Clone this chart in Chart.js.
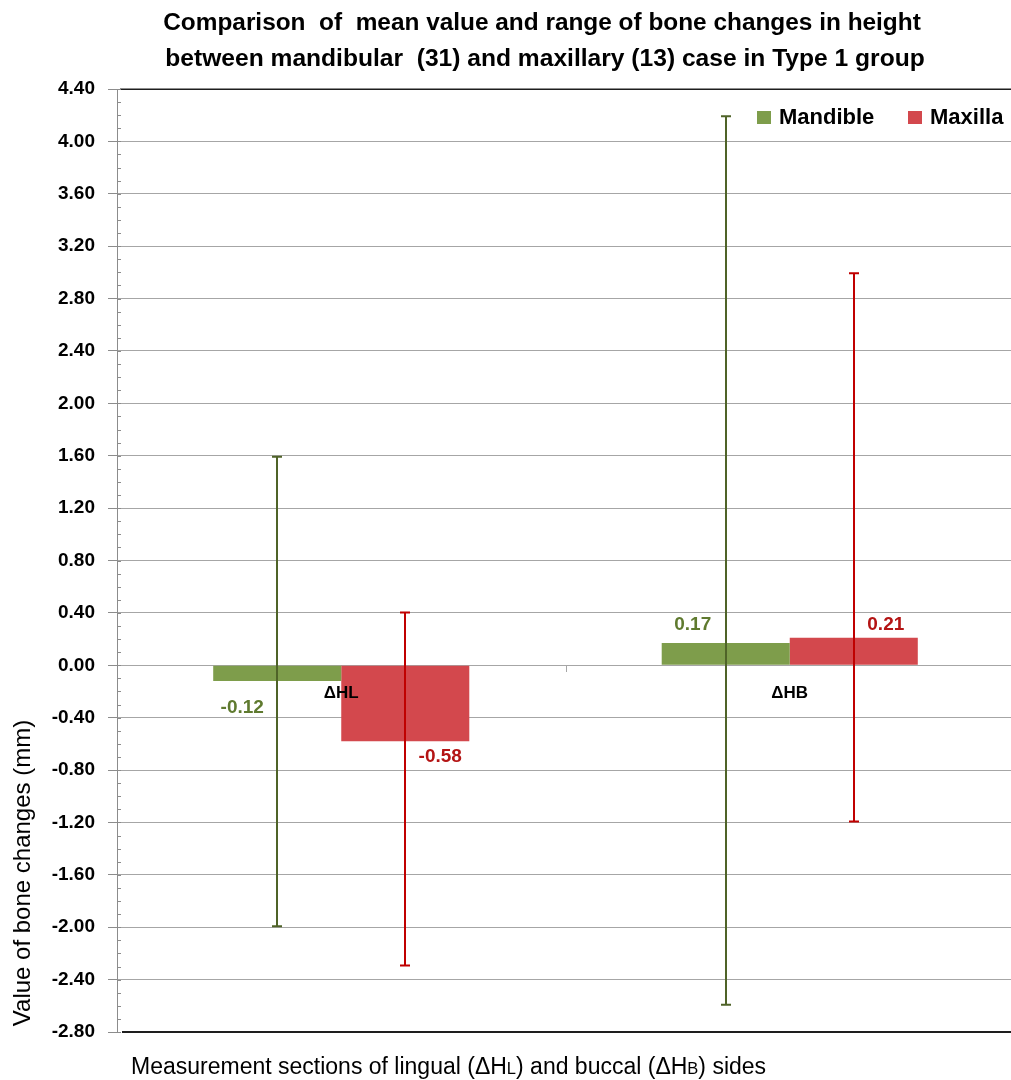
<!DOCTYPE html>
<html>
<head>
<meta charset="utf-8">
<script src="https://cdn.jsdelivr.net/npm/chart.js@4"></script>
<style>
  html, body { margin: 0; padding: 0; overflow: hidden; background: #ffffff; }
  #wrap { width: 1016px; height: 1080px; position: relative; }
</style>
</head>
<body>
<div id="wrap"><canvas id="c" width="1016" height="1080"></canvas></div>
<script>
// Measurement sections (category axis)
const categories = ['ΔHL', 'ΔHB'];
const seriesNames = ['Mandible', 'Maxilla'];

// Mean bone change (mm) per section
const mandibleMean = [-0.12, 0.17];
const maxillaMean = [-0.58, 0.21];

// Range (min / max) per section, drawn as range bars
const mandibleMin = [-2.00, -2.60];
const mandibleMax = [1.60, 4.20];
const maxillaMin = [-2.30, -1.20];
const maxillaMax = [0.41, 3.00];

// Value axis ticks
const yMin = -2.8;
const yMax = 4.4;
const yStep = 0.4;
const yMinorStep = 0.1;

const titleLines = [
  'Comparison  of  mean value and range of bone changes in height',
  'between mandibular  (31) and maxillary (13) case in Type 1 group'
];
const yTitle = 'Value of bone changes (mm)';
// x title pieces: [text, isSmall]
const xTitleParts = [
  ['Measurement sections of lingual (ΔH', false],
  ['L', true],
  [') and buccal (ΔH', false],
  ['B', true],
  [') sides', false]
];

// Styling
const barColors = ['#7e9d4b', '#d3484d'];
const rangeColors = ['#4f6328', '#c00000'];
const labelColors = ['#5f7a2f', '#b41414'];
const FONT = "'Liberation Sans', Arial, sans-serif";
// label offsets from bar centre / bar end, per dataset and category
const labelOffsets = [
  [{ dx: -35, dy: 27 }, { dx: -33, dy: -18 }],
  [{ dx: 35, dy: 16 }, { dx: 32, dy: -13 }]
];

const rangeMin = [mandibleMin, maxillaMin];
const rangeMax = [mandibleMax, maxillaMax];

const overlayPlugin = {
  id: 'overlay',
  afterDatasetsDraw(chart) {
    const ctx = chart.ctx;
    const y = chart.scales.y;
    const x = chart.scales.x;
    const area = chart.chartArea;
    ctx.save();

    // frame lines at top and bottom of the plot
    ctx.strokeStyle = '#1e1e1e';
    ctx.lineWidth = 1.5;
    ctx.beginPath();
    ctx.moveTo(area.left + 3, Math.round(y.getPixelForValue(yMax)) + 0.25);
    ctx.lineTo(area.right, Math.round(y.getPixelForValue(yMax)) + 0.25);
    ctx.stroke();
    ctx.lineWidth = 2;
    ctx.beginPath();
    ctx.moveTo(area.left + 5, Math.round(y.getPixelForValue(yMin)));
    ctx.lineTo(area.right, Math.round(y.getPixelForValue(yMin)));
    ctx.stroke();

    // minor ticks on the value axis
    ctx.strokeStyle = '#8c8c8c';
    ctx.lineWidth = 1;
    const nMinor = Math.round((yMax - yMin) / yMinorStep);
    for (let i = 0; i <= nMinor; i++) {
      const v = yMin + i * yMinorStep;
      const py = Math.round(y.getPixelForValue(v)) + 0.5;
      ctx.beginPath();
      ctx.moveTo(area.left, py);
      ctx.lineTo(area.left + 4, py);
      ctx.stroke();
    }

    // category separator tick on the zero line
    const zeroY = Math.round(y.getPixelForValue(0));
    const sepX = Math.round((x.getPixelForValue(0) + x.getPixelForValue(1)) / 2) + 0.5;
    ctx.strokeStyle = '#a6a6a6';
    ctx.beginPath();
    ctx.moveTo(sepX, zeroY);
    ctx.lineTo(sepX, zeroY + 7);
    ctx.stroke();

    // range bars
    chart.data.datasets.forEach((ds, di) => {
      const meta = chart.getDatasetMeta(di);
      meta.data.forEach((bar, ci) => {
        const bx = Math.round(bar.x);
        const top = y.getPixelForValue(rangeMax[di][ci]);
        const bot = y.getPixelForValue(rangeMin[di][ci]);
        ctx.strokeStyle = rangeColors[di];
        ctx.lineWidth = 2;
        ctx.beginPath();
        ctx.moveTo(bx, top);
        ctx.lineTo(bx, bot);
        ctx.moveTo(bx - 5, top + 1);
        ctx.lineTo(bx + 5, top + 1);
        ctx.moveTo(bx - 5, bot - 1);
        ctx.lineTo(bx + 5, bot - 1);
        ctx.stroke();
      });
    });

    // value labels
    ctx.font = 'bold 19px ' + FONT;
    ctx.textAlign = 'center';
    ctx.textBaseline = 'middle';
    chart.data.datasets.forEach((ds, di) => {
      const meta = chart.getDatasetMeta(di);
      meta.data.forEach((bar, ci) => {
        const v = ds.data[ci];
        const off = labelOffsets[di][ci];
        ctx.fillStyle = labelColors[di];
        ctx.fillText(v.toFixed(2), bar.x + off.dx, y.getPixelForValue(v) + off.dy);
      });
    });

    // category labels next to the zero line
    ctx.fillStyle = '#000000';
    ctx.font = 'bold 17px ' + FONT;
    categories.forEach((c, i) => {
      ctx.fillText(c, x.getPixelForValue(i), zeroY + 28);
    });

    ctx.restore();
  },
  afterDraw(chart) {
    const ctx = chart.ctx;
    ctx.save();
    ctx.fillStyle = '#000000';

    // chart title
    ctx.textAlign = 'center';
    ctx.textBaseline = 'middle';
    ctx.font = 'bold 24.4px ' + FONT;
    ctx.fillText(titleLines[0], 542, 23);
    ctx.font = 'bold 24.6px ' + FONT;
    ctx.fillText(titleLines[1], 545, 59);

    // legend
    const legend = [
      { sx: 757, tx: 779 },
      { sx: 908, tx: 930 }
    ];
    ctx.font = 'bold 22px ' + FONT;
    ctx.textAlign = 'left';
    seriesNames.forEach((n, i) => {
      ctx.fillStyle = barColors[i];
      ctx.fillRect(legend[i].sx, 111, 14, 13);
      ctx.fillStyle = '#000000';
      ctx.fillText(n, legend[i].tx, 118);
    });

    // value axis title
    ctx.save();
    ctx.translate(23, 873);
    ctx.rotate(-Math.PI / 2);
    ctx.font = '24px ' + FONT;
    ctx.textAlign = 'center';
    ctx.fillText(yTitle, 0, 0);
    ctx.restore();

    // category axis title with small letters
    ctx.textAlign = 'left';
    ctx.textBaseline = 'alphabetic';
    let px = 131;
    xTitleParts.forEach(([t, small]) => {
      ctx.font = (small ? '16.5px ' : '23px ') + FONT;
      ctx.fillText(t, px, 1074);
      px += ctx.measureText(t).width;
    });

    ctx.restore();
  }
};

new Chart(document.getElementById('c'), {
  type: 'bar',
  data: {
    labels: categories,
    datasets: [
      { label: seriesNames[0], data: mandibleMean, backgroundColor: barColors[0] },
      { label: seriesNames[1], data: maxillaMean, backgroundColor: barColors[1] }
    ]
  },
  options: {
    responsive: false,
    animation: false,
    devicePixelRatio: 1,
    layout: { padding: { top: 89, bottom: 48, left: 0, right: 2 } },
    datasets: { bar: { categoryPercentage: 0.571, barPercentage: 1.0, borderWidth: 0 } },
    plugins: { legend: { display: false }, title: { display: false }, tooltip: { enabled: false } },
    scales: {
      x: { display: false, offset: true, grid: { display: false } },
      y: {
        min: yMin,
        max: yMax,
        ticks: {
          stepSize: yStep,
          color: '#000000',
          padding: 13,
          font: { family: FONT, weight: 'bold', size: 19 },
          callback: v => Number(v).toFixed(2)
        },
        grid: {
          color: c => (c.index === 0 || c.tick && (Math.abs(c.tick.value - yMax) < 1e-6 || Math.abs(c.tick.value - yMin) < 1e-6)) ? 'rgba(0,0,0,0)' : '#a6a6a6',
          tickColor: '#8c8c8c',
          tickLength: 9,
          lineWidth: 1
        },
        border: { color: '#8c8c8c', width: 1 },
        afterFit: s => { s.width = 117; }
      }
    }
  },
  plugins: [overlayPlugin]
});
</script>
</body>
</html>
